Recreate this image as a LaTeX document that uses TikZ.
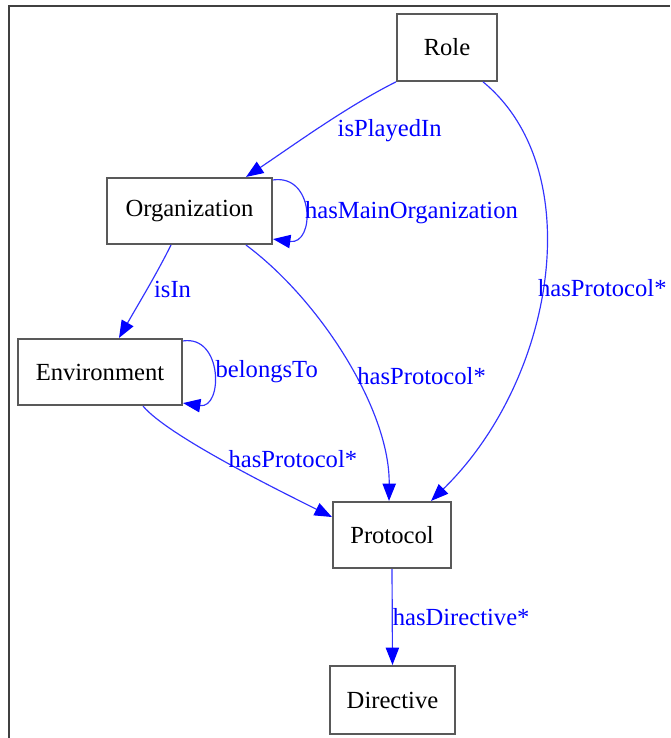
\documentclass[tikz,border=0pt]{standalone}
\usepackage{fontspec}
\setmainfont{Liberation Serif}
\usetikzlibrary{arrows.meta,calc}

\tikzset{
  box/.style={draw=black!65, line width=0.9pt, fill=white, inner sep=0pt,
    font=\fontsize{10.5}{12}\selectfont},
  rel/.style={draw=blue!80, line width=0.5pt,
    -{Triangle[length=0.26cm,width=0.2cm,color=blue]}},
  rellabel/.style={text=blue, inner sep=0pt, anchor=west,
    font=\fontsize{10.5}{12}\selectfont},
}

\begin{document}
\begin{tikzpicture}[x=0.015cm,y=-0.015cm]
  \useasboundingbox (0,0) rectangle (670,738);
  % frame
  \draw[black!75, line width=1pt] (9,738) -- (9,6) -- (670,6);

  % classes
  \node[box, minimum width=1.5cm, minimum height=1cm] (role) at (447,47.5) {Role};
  \node[box, minimum width=2.475cm, minimum height=0.99cm] (org) at (189.5,211) {Organization};
  \node[box, minimum width=2.46cm, minimum height=0.99cm] (env) at (100,372) {Environment};
  \node[box, minimum width=1.77cm, minimum height=0.99cm] (prot) at (392,535) {Protocol};
  \node[box, minimum width=1.875cm, minimum height=1.02cm] (dir) at (392.5,700) {Directive};

  % relations
  \draw[rel] (role.south west) .. controls +(-50,25) and +(45,-30) .. ($(org.north east)+(-27,0)$)
    node[rellabel, pos=0.5, xshift=0.27cm, yshift=-0.04cm] (lplayed) {isPlayedIn};
  \draw[rel] ($(org.north east)+(0,3)$) .. controls +(42,-6) and +(42,6) .. ($(org.south east)+(0,-6)$)
    node[rellabel, pos=0.5, yshift=-0.04cm] (lmain) {hasMainOrganization};
  \draw[rel] ($(org.south)+(-18.5,0)$) .. controls +(-15,30) and +(20,-35) .. ($(env.north)+(19,0)$)
    node[rellabel, pos=0.5, xshift=0.1cm] (lisin) {isIn};
  \draw[rel] ($(env.north east)+(0,3)$) .. controls +(40,-6) and +(40,6) .. ($(env.south east)+(0,-3)$)
    node[rellabel, pos=0.5, xshift=0.03cm] (lbelongs) {belongsTo};
  \draw[rel] ($(env.south)+(43,0)$) .. controls +(25,30) and +(-50,-25) .. ($(prot.west)+(0,-18)$)
    node[rellabel, pos=0.5, yshift=0.06cm] (lprotenv) {hasProtocol*};
  \draw[rel] ($(org.south)+(56.5,0)$) .. controls (320,300) and (390,410) .. ($(prot.north)+(-3,0)$)
    node[rellabel, pos=0.56, xshift=0.03cm] (lprotorg) {hasProtocol*};
  \draw[rel] ($(role.south east)+(-15,0)$) .. controls (590,170) and (555,380) .. ($(prot.north east)+(-21,0)$)
    node[rellabel, pos=0.52, xshift=-0.07cm] (lprotrole) {hasProtocol*};
  \draw[rel] (prot.south) -- (dir.north)
    node[rellabel, pos=0.5] (ldir) {hasDirective*};
\end{tikzpicture}
\end{document}
